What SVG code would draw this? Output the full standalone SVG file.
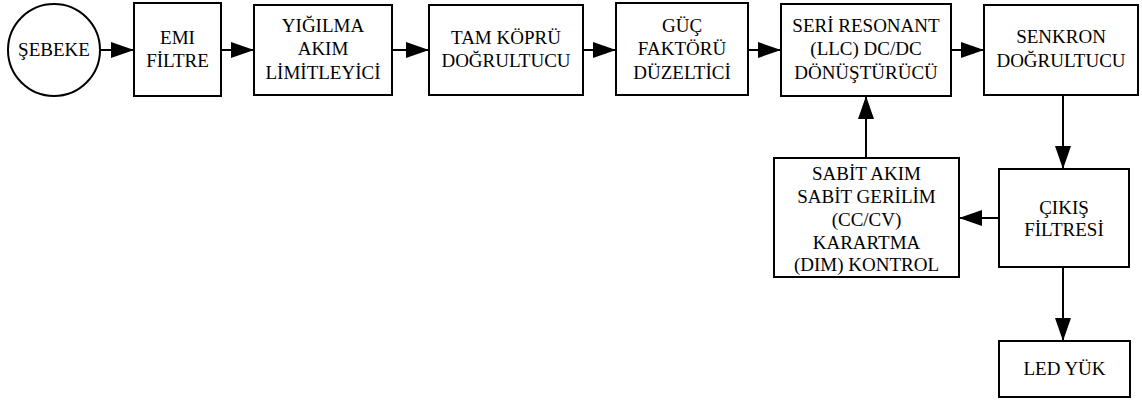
<svg xmlns="http://www.w3.org/2000/svg" width="1142" height="401" viewBox="0 0 1142 401">
<defs>
<marker id="ah" markerUnits="userSpaceOnUse" markerWidth="24" markerHeight="16" refX="23" refY="8" orient="auto">
<path d="M0,0 L23,8 L0,16 z" fill="#000"/>
</marker>
</defs>
<rect width="1142" height="401" fill="#fff"/>
<g id="connectors" fill="none" stroke="#000" stroke-width="2">
<line x1="100" y1="50" x2="134" y2="50" marker-end="url(#ah)"/>
<line x1="221" y1="50" x2="254" y2="50" marker-end="url(#ah)"/>
<line x1="392" y1="50" x2="429" y2="50" marker-end="url(#ah)"/>
<line x1="583" y1="50" x2="616" y2="50" marker-end="url(#ah)"/>
<line x1="748" y1="50" x2="781" y2="50" marker-end="url(#ah)"/>
<line x1="951" y1="50" x2="984" y2="50" marker-end="url(#ah)"/>
<line x1="1063" y1="95" x2="1063" y2="169" marker-end="url(#ah)"/>
<line x1="999" y1="218" x2="959" y2="218" marker-end="url(#ah)"/>
<line x1="866" y1="158" x2="866" y2="96" marker-end="url(#ah)"/>
<line x1="1063" y1="267" x2="1063" y2="341" marker-end="url(#ah)"/>
</g>
<g id="nodes" fill="#fff" stroke="#000" stroke-width="2">
<circle cx="54" cy="50" r="46"/>
<rect x="134" y="3" width="87" height="93"/>
<rect x="254" y="5" width="138" height="90"/>
<rect x="429" y="5" width="154" height="90"/>
<rect x="616" y="3" width="132" height="92"/>
<rect x="781" y="4" width="170" height="92"/>
<rect x="984" y="5" width="154" height="90"/>
<rect x="774" y="158" width="185" height="119"/>
<rect x="999" y="169" width="130" height="98"/>
<rect x="999" y="341" width="131" height="56"/>
</g>
<g id="labels" font-family="Liberation Serif" font-size="19" text-anchor="middle" fill="#000">
<g id="sebeke"><text x="54" y="56">ŞEBEKE</text></g>
<g id="emi"><text x="177.5" y="44">EMI</text><text x="177.5" y="67">FİLTRE</text></g>
<g id="yigilma"><text x="323" y="32">YIĞILMA</text><text x="323" y="55">AKIM</text><text x="323" y="79">LİMİTLEYİCİ</text></g>
<g id="tamkopru"><text x="506" y="44">TAM KÖPRÜ</text><text x="506" y="67">DOĞRULTUCU</text></g>
<g id="guc"><text x="682" y="32">GÜÇ</text><text x="682" y="55">FAKTÖRÜ</text><text x="682" y="79">DÜZELTİCİ</text></g>
<g id="llc"><text x="866" y="32">SERİ RESONANT</text><text x="866" y="55">(LLC) DC/DC</text><text x="866" y="79">DÖNÜŞTÜRÜCÜ</text></g>
<g id="senkron"><text x="1061" y="43">SENKRON</text><text x="1061" y="67">DOĞRULTUCU</text></g>
<g id="ccvc"><text x="866.5" y="180">SABİT AKIM</text><text x="866.5" y="203">SABİT GERİLİM</text><text x="866.5" y="226">(CC/CV)</text><text x="866.5" y="249">KARARTMA</text><text x="866.5" y="271">(DIM) KONTROL</text></g>
<g id="cikis"><text x="1064" y="214">ÇIKIŞ</text><text x="1064" y="236">FİLTRESİ</text></g>
<g id="led"><text x="1064.5" y="375">LED YÜK</text></g>
</g>
</svg>
